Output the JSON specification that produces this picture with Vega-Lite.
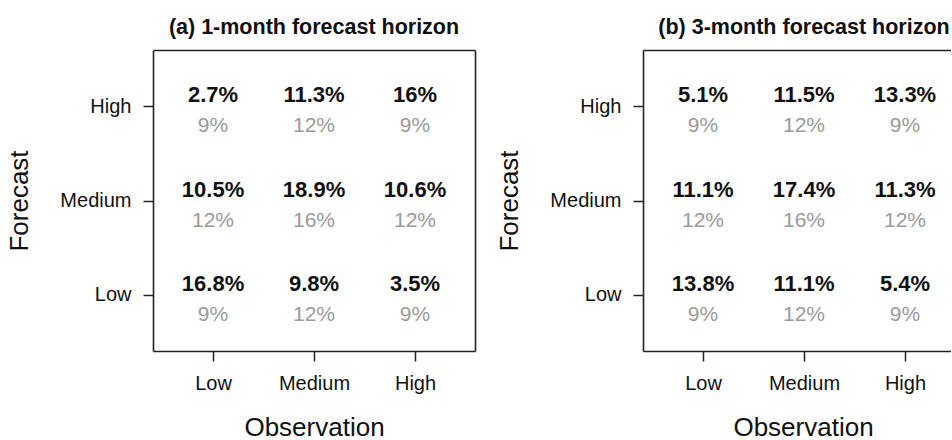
{
  "$schema": "https://vega.github.io/schema/vega-lite/v6.json",
  "background": "white",
  "padding": {"left": 6, "top": 16, "right": 0, "bottom": 0},
  "spacing": 21,
  "config": {
    "font": "Liberation Sans",
    "view": {"stroke": null},
    "axis": {
      "labelFont": "Liberation Sans", "labelFontSize": 20, "labelColor": "#111",
      "titleFont": "Liberation Sans", "titleFontSize": 26, "titleFontWeight": "normal", "titleColor": "#111",
      "tickColor": "#222", "tickSize": 10, "tickWidth": 1.5,
      "domainColor": "#222", "domainWidth": 1.6,
      "grid": false, "labelPadding": 12, "labelAngle": 0
    },
    "title": {"font": "Liberation Sans", "fontSize": 21.5, "fontWeight": "bold", "color": "#111", "anchor": "middle", "offset": 12}
  },
  "datasets": {
    "a": [
      {"obs": "Low", "fc": "High", "value": 0.027, "clim": 0.09},
      {"obs": "Medium", "fc": "High", "value": 0.113, "clim": 0.12},
      {"obs": "High", "fc": "High", "value": 0.16, "clim": 0.09},
      {"obs": "Low", "fc": "Medium", "value": 0.105, "clim": 0.12},
      {"obs": "Medium", "fc": "Medium", "value": 0.189, "clim": 0.16},
      {"obs": "High", "fc": "Medium", "value": 0.106, "clim": 0.12},
      {"obs": "Low", "fc": "Low", "value": 0.168, "clim": 0.09},
      {"obs": "Medium", "fc": "Low", "value": 0.098, "clim": 0.12},
      {"obs": "High", "fc": "Low", "value": 0.035, "clim": 0.09}
    ],
    "b": [
      {"obs": "Low", "fc": "High", "value": 0.051, "clim": 0.09},
      {"obs": "Medium", "fc": "High", "value": 0.115, "clim": 0.12},
      {"obs": "High", "fc": "High", "value": 0.133, "clim": 0.09},
      {"obs": "Low", "fc": "Medium", "value": 0.111, "clim": 0.12},
      {"obs": "Medium", "fc": "Medium", "value": 0.174, "clim": 0.16},
      {"obs": "High", "fc": "Medium", "value": 0.113, "clim": 0.12},
      {"obs": "Low", "fc": "Low", "value": 0.138, "clim": 0.09},
      {"obs": "Medium", "fc": "Low", "value": 0.111, "clim": 0.12},
      {"obs": "High", "fc": "Low", "value": 0.054, "clim": 0.09}
    ]
  },
  "hconcat": [
    {
      "title": "(a) 1-month forecast horizon",
      "data": {"name": "a"},
      "width": 322,
      "height": 301,
      "layer": [
        {
          "mark": {"type": "text", "fontWeight": "bold", "fontSize": 22, "color": "#111", "dy": -11},
          "encoding": {
            "x": {"field": "obs", "type": "ordinal", "sort": ["Low", "Medium", "High"], "scale": {"type": "point", "padding": 0.594}, "axis": {"title": "Observation", "titlePadding": 21}},
            "y": {"field": "fc", "type": "ordinal", "sort": ["High", "Medium", "Low"], "scale": {"type": "point", "padding": 0.6}, "axis": {"title": "Forecast", "titlePadding": 27}},
            "text": {"field": "value", "type": "quantitative", "format": ".1~%"}
          }
        },
        {
          "mark": {"type": "text", "fontSize": 21, "color": "#9a9a9a", "dy": 20},
          "encoding": {
            "x": {"field": "obs", "type": "ordinal", "sort": ["Low", "Medium", "High"], "axis": {"orient": "top", "labels": false, "ticks": false, "title": null}},
            "y": {"field": "fc", "type": "ordinal", "sort": ["High", "Medium", "Low"], "axis": {"orient": "right", "labels": false, "ticks": false, "title": null}},
            "text": {"field": "clim", "type": "quantitative", "format": ".0%"}
          }
        }
      ],
      "resolve": {"axis": {"x": "independent", "y": "independent"}}
    },
    {
      "title": {"text": "(b) 3-month forecast horizon", "dx": 7},
      "data": {"name": "b"},
      "width": 308,
      "height": 301,
      "layer": [
        {
          "mark": {"type": "text", "fontWeight": "bold", "fontSize": 22, "color": "#111", "dy": -11},
          "encoding": {
            "x": {"field": "obs", "type": "ordinal", "sort": ["Low", "Medium", "High"], "scale": {"type": "point", "padding": 0.5248, "align": 0.566}, "axis": {"title": "Observation", "titlePadding": 21, "titleX": 160}},
            "y": {"field": "fc", "type": "ordinal", "sort": ["High", "Medium", "Low"], "scale": {"type": "point", "padding": 0.6}, "axis": {"title": "Forecast", "titlePadding": 27}},
            "text": {"field": "value", "type": "quantitative", "format": ".1~%"}
          }
        },
        {
          "mark": {"type": "text", "fontSize": 21, "color": "#9a9a9a", "dy": 20},
          "encoding": {
            "x": {"field": "obs", "type": "ordinal", "sort": ["Low", "Medium", "High"], "axis": {"orient": "top", "labels": false, "ticks": false, "title": null}},
            "y": {"field": "fc", "type": "ordinal", "sort": ["High", "Medium", "Low"], "axis": null},
            "text": {"field": "clim", "type": "quantitative", "format": ".0%"}
          }
        }
      ],
      "resolve": {"axis": {"x": "independent", "y": "independent"}}
    }
  ]
}
